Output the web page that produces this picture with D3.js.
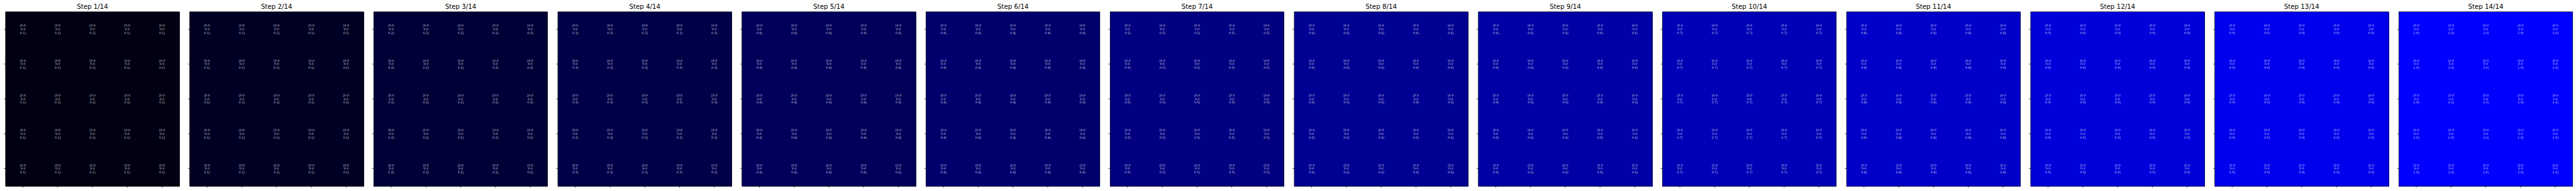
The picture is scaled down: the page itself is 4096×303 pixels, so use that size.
<!DOCTYPE html>
<html>
<head>
<meta charset="utf-8">
<script src="https://cdn.jsdelivr.net/npm/d3@7"></script>
<style>
  html, body { margin: 0; padding: 0; background: #ffffff; overflow: hidden; }
  svg { display: block; }
  text { font-family: "DejaVu Sans", sans-serif; }
</style>
</head>
<body>
<script>
// ---- data ----
const stepTitles = ["Step 1/14","Step 2/14","Step 3/14","Step 4/14","Step 5/14","Step 6/14","Step 7/14",
                    "Step 8/14","Step 9/14","Step 10/14","Step 11/14","Step 12/14","Step 13/14","Step 14/14"];
const redChannel   = [0,0,0,0,0,0,0,0,0,0,0,0,0,0];
const greenChannel = [0,0,0,0,0,0,0,0,0,0,0,0,0,0];
const blueChannel  = [18,36,55,73,91,109,128,146,164,182,200,219,237,255];
const blueLabels   = ["0.1","0.1","0.2","0.3","0.4","0.4","0.5","0.6","0.6","0.7","0.8","0.9","0.9","1.0"];
const gridRows = ["0","1","2","3","4"];
const gridCols = ["0","1","2","3","4"];

// ---- layout (reference units, scaled to window) ----
const W = 4096, H = 303;
const REF_W = 6980;
const s = W / REF_W;

const svg = d3.select("body").append("svg")
  .attr("width", W).attr("height", H);
const root = svg.append("g").attr("transform", `scale(${s})`);

const panelLeft0 = 15, panelPitch = 498.85, panelSize = 471, panelTop = 32;

const panelX = d3.scaleLinear()
  .domain([0, stepTitles.length - 1])
  .range([panelLeft0, panelLeft0 + panelPitch * (stepTitles.length - 1)]);

const colScale = d3.scaleBand().domain(gridCols).range([0, panelSize]);
const rowScale = d3.scaleBand().domain(gridRows).range([0, panelSize]);

stepTitles.forEach((title, i) => {
  const g = root.append("g")
    .attr("transform", `translate(${panelX(i)},${panelTop})`);

  const fill = d3.rgb(redChannel[i], greenChannel[i], blueChannel[i]);

  // base image area (same colour as the cells, avoids seams)
  g.append("rect")
    .attr("x", colScale.range()[0]).attr("y", rowScale.range()[0])
    .attr("width", panelSize).attr("height", panelSize)
    .attr("fill", fill);

  // cells
  const cells = [];
  gridRows.forEach(r => gridCols.forEach(c => cells.push({r, c})));
  g.selectAll("rect.cell").data(cells).enter().append("rect")
    .attr("class", "cell")
    .attr("x", d => colScale(d.c))
    .attr("y", d => rowScale(d.r))
    .attr("width", colScale.bandwidth() + 1)
    .attr("height", rowScale.bandwidth() + 1)
    .attr("shape-rendering", "crispEdges")
    .attr("fill", fill);

  // cell labels
  const lines = [`[${(redChannel[i]/255).toFixed(1)}`, `${(greenChannel[i]/255).toFixed(1)}`, `${blueLabels[i]}]`];
  const fs = 8, lh = 9.6;
  cells.forEach(d => {
    const cx = colScale(d.c) + colScale.bandwidth() / 2;
    const cy = rowScale(d.r) + rowScale.bandwidth() / 2;
    const t = g.append("text")
      .attr("x", cx)
      .attr("y", cy)
      .attr("text-anchor", "middle")
      .attr("font-size", fs)
      .attr("fill", "#ffffff")
      .attr("fill-opacity", 0.78);
    lines.forEach((ln, k) => {
      t.append("tspan")
        .attr("x", cx)
        .attr("y", cy + (k - 1) * lh + fs * 0.36)
        .text(ln);
    });
  });

  // frame
  g.append("rect")
    .attr("x", 0).attr("y", 0)
    .attr("width", panelSize).attr("height", panelSize)
    .attr("fill", "none")
    .attr("stroke", "#000000")
    .attr("stroke-width", 1.1);

  // axes (ticks only, no labels)
  const xAxis = d3.axisBottom(colScale).tickSize(4.5).tickFormat("");
  const yAxis = d3.axisLeft(rowScale).tickSize(4.5).tickFormat("");
  const gx = g.append("g").attr("transform", `translate(0,${panelSize})`).call(xAxis);
  const gy = g.append("g").call(yAxis);
  [gx, gy].forEach(a => {
    a.select(".domain").remove();
    a.selectAll(".tick line").attr("stroke", "#000").attr("stroke-width", 1.2);
  });

  // title
  g.append("text")
    .attr("x", panelSize / 2)
    .attr("y", -8)
    .attr("text-anchor", "middle")
    .attr("font-size", 17.5)
    .attr("fill", "#000000")
    .text(title);
});
</script>
</body>
</html>
